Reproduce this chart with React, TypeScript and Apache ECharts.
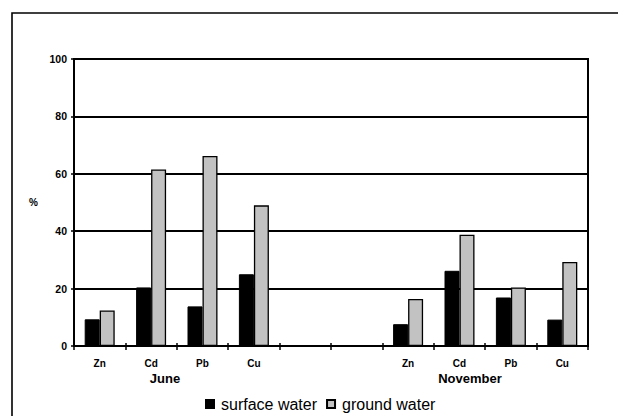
import React, { useEffect, useRef } from "react";
import * as echarts from "echarts";

const categories = ["Zn", "Cd", "Pb", "Cu", "", "", "Zn", "Cd", "Pb", "Cu"];
const surfaceWater = [9.3, 20.4, 13.8, 25.0, null, null, 7.6, 26.2, 16.9, 9.2];
const groundWater = [12.4, 61.5, 66.2, 49.0, null, null, 16.4, 38.8, 20.4, 29.3];
const groupLabels = [
  { text: "June", x: 165 },
  { text: "November", x: 470 },
];

const FONT = 'Arial, "Liberation Sans", Helvetica, sans-serif';

export default function App() {
  const ref = useRef<HTMLDivElement>(null);
  useEffect(() => {
    document.body.style.margin = "0";
    const chart = echarts.init(ref.current!, null, { renderer: "svg" });
    chart.setOption({
      animation: false,
      backgroundColor: "#ffffff",
      textStyle: { fontFamily: FONT },
      grid: {
        left: 74,
        top: 59,
        right: 30,
        bottom: 70,
        show: true,
        borderColor: "#000",
        borderWidth: 2,
        backgroundColor: "transparent",
      },
      legend: {
        left: 205,
        top: 396,
        padding: 0,
        icon: "rect",
        itemWidth: 8,
        itemHeight: 8,
        itemGap: 9,
        textStyle: { fontSize: 16, color: "#000", fontFamily: FONT, padding: [0, 0, 0, 2] },
        data: ["surface water", "ground water"],
      },
      xAxis: [
        {
          type: "category",
          data: categories,
          axisLine: { lineStyle: { color: "#000", width: 2 } },
          axisTick: { show: true, length: 4, lineStyle: { color: "#000", width: 1.5 } },
          axisLabel: { color: "#000", fontSize: 10, fontWeight: "bold", margin: 12, fontFamily: FONT },
          splitLine: { show: false },
        },
        {
          type: "category",
          data: categories,
          position: "bottom",
          axisLine: { show: false },
          axisTick: { show: true, inside: true, length: 3, lineStyle: { color: "#000", width: 1.5 } },
          axisLabel: { show: false },
          splitLine: { show: false },
        },
      ],
      yAxis: {
        type: "value",
        min: 0,
        max: 100,
        interval: 20,
        name: "%",
        nameLocation: "middle",
        nameRotate: 0,
        nameGap: 36,
        nameTextStyle: { color: "#000", fontSize: 10, fontWeight: "bold", fontFamily: FONT },
        axisLine: { show: true, lineStyle: { color: "#000", width: 2 } },
        axisTick: { show: true, length: 3, lineStyle: { color: "#000", width: 1.5 } },
        axisLabel: { color: "#000", fontSize: 10.5, fontWeight: "bold", margin: 7, fontFamily: FONT },
        splitLine: { show: true, lineStyle: { color: "#000", width: 2 } },
      },
      series: [
        {
          name: "surface water",
          type: "bar",
          data: surfaceWater,
          barWidth: 15,
          barGap: "0%",
          itemStyle: { color: "#000", borderColor: "#000", borderWidth: 1 },
        },
        {
          name: "ground water",
          type: "bar",
          data: groundWater,
          barWidth: 15,
          barGap: "0%",
          itemStyle: { color: "#c2c2c2", borderColor: "#000", borderWidth: 1.3 },
        },
      ],
      graphic: [
        {
          type: "rect",
          shape: { x: 12, y: 13, width: 640, height: 440 },
          style: { fill: "none", stroke: "#000", lineWidth: 1.6 },
          silent: true,
        },
        ...groupLabels.map((g) => ({
          type: "text",
          x: g.x,
          y: 378,
          style: {
            text: g.text,
            fill: "#000",
            font: `bold 13px ${FONT}`,
            textAlign: "center",
            textVerticalAlign: "middle",
          },
        })),
      ],
    });
    return () => chart.dispose();
  }, []);
  return <div ref={ref} style={{ width: 618, height: 416 }} />;
}
